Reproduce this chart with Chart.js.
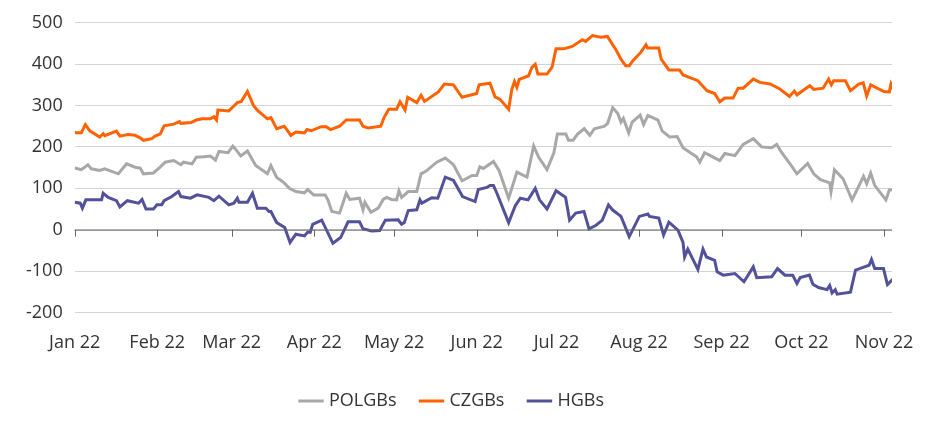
<!DOCTYPE html>
<html><head><meta charset="utf-8">
<script src="https://cdn.jsdelivr.net/npm/chart.js@4/dist/chart.umd.min.js"></script>
<style>html,body{margin:0;padding:0;background:#fff}#w{width:952px;height:438px}</style>
</head><body><div id="w"><canvas id="c"></canvas></div>
<script>
const monthDays=[0,31,59,90,120,151,181,212,243,273,304];
const monthLabels=["Jan 22","Feb 22","Mar 22","Apr 22","May 22","Jun 22","Jul 22","Aug 22","Sep 22","Oct 22","Nov 22"];
const seriesNames=["POLGBs","CZGBs","HGBs"];

const czDays=[0,2.5,4,5.7,9.4,10.7,11.3,15.7,17,20,22.7,24.6,25.8,29,30.2,32.1,33.6,37.2,39.4,39.9,43.7,45.7,47.9,51,52.3,53.3,53.8,57.9,59.8,61.1,62.6,64.9,67.1,68.6,72.4,73.7,75.9,78.7,79.7,81.2,83.1,86.3,87.3,88.8,92.6,94.5,96.1,99.5,102,107,108.3,110.2,115,116.2,118,120.9,122.2,124.1,125.1,128.5,130.1,131.4,136.6,138.9,142.3,144,145.5,151,151.9,156,157.9,159.8,163,164.2,165.2,166.1,167,170.5,171.8,173,174,177.4,179.3,180.8,183.7,186.9,190.7,191.9,194.5,197.6,200.1,203.3,205.2,207,208.3,209.6,212.7,214.6,215.2,219.4,220.3,223.2,227.2,228.5,234.1,237.5,240.4,242.3,244.2,247.3,249.2,251.1,254.9,257.4,261.2,264.9,268.5,270.3,271.3,276.1,277.6,281.1,283.2,284.2,285.1,289.5,291.4,294.5,296.2,297.5,299,304,306,306.6,307.5];
const czValues=[234,234,254,239,224,232,227,238,226,230,228,222,216,220,226,231,251,255,261,257,259,265,268,268,273,265,289,287,299,307,310,334,301,289,268,271,244,250,242,228,236,234,242,239,249,249,242,250,265,265,250,246,250,271,291,291,309,289,320,307,325,310,333,352,350,334,320,329,350,354,321,315,291,339,358,344,363,372,393,400,376,376,392,437,437,443,459,455,469,465,467,435,412,396,396,408,429,447,439,439,412,386,386,374,360,336,329,309,318,318,342,342,364,356,352,340,322,335,326,348,339,342,364,350,360,360,336,352,355,323,350,334,333,352,339];

const polDays=[0,2.5,5,6.3,9.4,11.3,16.4,19.5,22.7,24.6,25.8,29.6,32.1,34,37.2,39.9,40.9,44.1,45.7,48.5,51,52.9,54.2,57.6,59.4,60.5,62.4,64.9,68,72.4,73.7,75.9,78.7,80.6,83.1,86.3,87.5,89.8,94.1,95.1,96.6,99.5,102,103.3,107,108.3,109,111.3,114,115.9,117.2,119,120.9,121.8,122.8,125.3,128.5,130.1,131.9,136,139.2,142.3,145.5,149.3,151,152.2,153.5,157.3,159.4,163,166.1,169.9,172.4,174.3,177.4,180,181.3,184.5,185.5,187.2,188.9,191.4,193.5,195.2,199,200.2,202.1,204,205.2,206.1,208.1,209.4,212.4,213.7,215.3,219.1,220.7,223.5,226.3,228.5,231.7,233.6,234.8,236.6,238.8,242.3,244.2,248,251.1,254.9,258,261.8,263.7,265.6,268.7,271.3,275.3,277.6,280.1,283.6,284.1,285.4,288.6,292,296.3,297.5,299,300.5,304.7,306,307.5];
const polValues=[149,145,157,147,143,147,135,159,151,149,135,137,151,163,167,157,163,159,175,176,178,168,189,186,202,194,178,190,155,135,155,126,113,100,92,89,97,84,84,72,44,40,88,73,76,48,66,42,52,73,78,73,72,94,78,92,92,135,141,163,173,157,118,131,131,152,148,165,143,76,139,127,202,175,145,186,231,231,216,216,231,244,228,244,250,257,295,281,260,269,234,260,277,254,276,265,238,224,225,198,184,176,163,186,179,167,184,179,206,220,200,198,206,186,159,135,160,135,121,113,92,145,123,72,129,111,137,107,72,96,97];

const hgbDays=[0,2.1,2.9,4.2,10.1,10.7,12.6,15.7,17,19.8,24,25.3,26.8,29.6,30.9,32.7,33.6,36.5,39,39.9,43.5,46,50.4,52.3,54.2,57.9,59.8,61.1,61.7,64.9,66.8,68.6,71.8,73,73.7,75.9,78.9,80.9,83.1,86.3,87.5,88.5,89.4,92.8,97,99.9,102.7,107,108.3,111.5,114.6,116.7,121.5,122.8,123.8,125.3,128.5,129.7,130.4,134.1,136.4,139.2,142.3,145.7,150.4,151.6,154.8,156,157.3,158.6,163,165.5,167.4,170.3,173,174.6,177.4,180.8,184.4,185.9,188.2,191.3,193.2,195.7,198.2,200.5,202,205.2,208.3,212.1,215.3,215.9,219.4,221.2,223.2,226.6,228.5,229.1,230.3,234.1,236,237.3,240.4,241.3,243.6,248,251.4,254.9,256.2,261.8,264,266.8,269.7,271.3,272.5,276,277.3,279.4,282.6,283.6,284.5,285.7,286.4,291.4,293.3,296.7,298.4,299.3,300.5,303.8,305.3,307.5];
const hgbValues=[66,64,52,72,72,88,78,70,55,70,64,73,50,50,60,60,70,80,92,80,76,84,78,70,81,60,64,76,66,66,88,52,52,44,44,17,5,-31,-11,-15,-6,-6,13,23,-33,-19,19,19,2,-3,-2,23,24,13,17,46,48,72,64,77,76,127,119,80,68,97,102,107,107,88,17,58,76,72,100,72,50,94,78,23,40,44,2,10,23,60,48,32,-17,32,38,32,28,-13,18,-1,-31,-66,-47,-96,-47,-66,-74,-102,-110,-106,-126,-90,-116,-114,-94,-110,-110,-130,-116,-110,-132,-140,-145,-135,-153,-145,-156,-151,-98,-90,-86,-72,-94,-94,-133,-119];

const toXY=(d,v)=>d.map((x,i)=>({x:x,y:v[i]}));
const zeroTicks={id:'zeroTicks',afterDatasetsDraw(ch){
  const {ctx,scales:{x,y}}=ch;const y0=y.getPixelForValue(0);
  ctx.save();ctx.strokeStyle='#666';ctx.lineWidth=1;
  ctx.beginPath();ctx.moveTo(x.left,y0+0.5);ctx.lineTo(x.right,y0+0.5);
  monthDays.forEach(d=>{const px=Math.round(x.getPixelForValue(d))+0.5;ctx.moveTo(px,y0);ctx.lineTo(px,y0+7);});
  ctx.stroke();ctx.restore();}};
const F="'Open Sans', sans-serif";
const colors=['#a8a8a8','#ff6200','#525199'];
const mk=(i,d,v)=>({label:seriesNames[i],data:toXY(d,v),borderColor:colors[i],backgroundColor:colors[i],pointBorderColor:colors[i],pointBackgroundColor:colors[i],borderWidth:3,pointBorderWidth:3});
new Chart(document.getElementById('c'),{
  type:'line',
  data:{datasets:[mk(0,polDays,polValues),mk(1,czDays,czValues),mk(2,hgbDays,hgbValues)]},
  options:{responsive:true,maintainAspectRatio:false,animation:false,
    elements:{point:{radius:0},line:{tension:0}},
    layout:{padding:{left:14,right:60,top:20,bottom:18}},
    plugins:{legend:{position:'bottom',labels:{usePointStyle:true,pointStyle:'line',boxWidth:40,padding:26,color:'#333',font:{family:F,size:18}}},tooltip:{enabled:false}},
    scales:{
      x:{type:'linear',min:0,max:307,grid:{display:false},border:{display:false},
        afterBuildTicks(s){s.ticks=monthDays.map(v=>({value:v}));},
        ticks:{autoSkip:false,maxRotation:0,padding:12,color:'#333',font:{family:F,size:18},callback:(v)=>monthLabels[monthDays.indexOf(v)]}},
      y:{min:-200,max:500,border:{display:false},
        grid:{color:'#d4d4d4',drawTicks:false},
        ticks:{stepSize:100,padding:12,color:'#333',font:{family:F,size:18}}}
    }},
  plugins:[zeroTicks]
});
</script></body></html>
